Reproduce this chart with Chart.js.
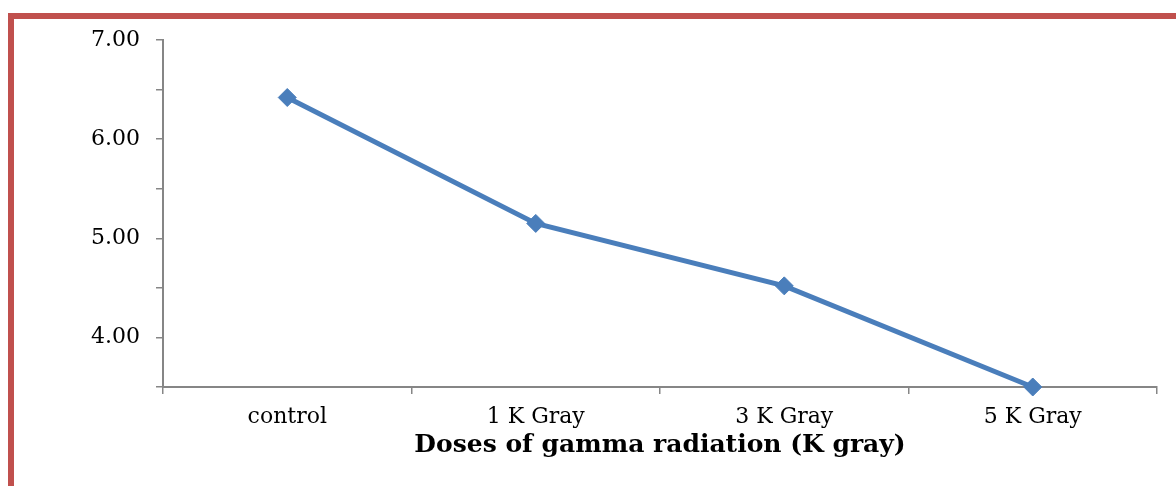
<!DOCTYPE html>
<html>
<head>
<meta charset="utf-8">
<script src="https://cdn.jsdelivr.net/npm/chart.js@4"></script>
<style>
  html, body { margin: 0; padding: 0; background: #fff; overflow: hidden; }
  #wrap { position: relative; width: 1176px; height: 486px; }
  #frame {
    position: absolute; left: 8px; top: 13px; width: 1300px; height: 600px;
    border-left: 6px solid #C0504D; border-top: 6px solid #C0504D;
  }
  canvas { position: absolute; left: 0; top: 0; }
</style>
</head>
<body>
<div id="wrap">
  <div id="frame"></div>
  <canvas id="chart" width="1176" height="486"></canvas>
</div>
<script>
// doses and measured values
const doses = ['control', '1 K Gray', '3 K Gray', '5 K Gray'];
const values = [6.42, 5.15, 4.52, 3.50];
const yMin = 3.5, yMax = 7, yStep = 0.5;

const axisColor = '#868686';
const lineColor = '#4A7EBB';
const serif = '"DejaVu Serif", "Liberation Serif", serif';

const config = {
  type: 'line',
  data: {
    labels: doses,
    datasets: [{
      data: values,
      borderColor: lineColor,
      backgroundColor: lineColor,
      borderWidth: 5,
      pointStyle: 'rectRot',
      pointRadius: 9,
      pointBorderWidth: 1,
      pointBorderColor: lineColor,
      tension: 0,
      clip: false
    }]
  },
  options: {
    responsive: false,
    animation: false,
    devicePixelRatio: 1,
    layout: { padding: { left: 0, right: 19, top: 40, bottom: 0 } },
    plugins: { legend: { display: false }, tooltip: { enabled: false } },
    scales: {
      x: {
        offset: true,
        grid: { offset: true, drawOnChartArea: false, color: axisColor, tickLength: 7, lineWidth: 1.5 },
        border: { color: axisColor, width: 2 },
        ticks: { color: '#000', padding: 10, font: { family: serif, size: 22 } },
        title: {
          display: true,
          text: 'Doses of gamma radiation (K gray)',
          color: '#000',
          padding: { top: 0, bottom: 26 },
          font: { family: serif, size: 25, weight: 'bold' }
        },
        afterFit(scale) { scale.height = 99; }
      },
      y: {
        min: yMin,
        max: yMax,
        grid: { drawOnChartArea: false, color: axisColor, tickLength: 7, lineWidth: 1.5 },
        border: { color: axisColor, width: 2 },
        ticks: {
          stepSize: yStep,
          color: '#000',
          padding: 16,
          font: { family: serif, size: 22 },
          callback: v => (v % 1 === 0 ? v.toFixed(2) : '')
        },
        afterFit(scale) { scale.width = 163; }
      }
    }
  }
};

new Chart(document.getElementById('chart'), config);
</script>
</body>
</html>
